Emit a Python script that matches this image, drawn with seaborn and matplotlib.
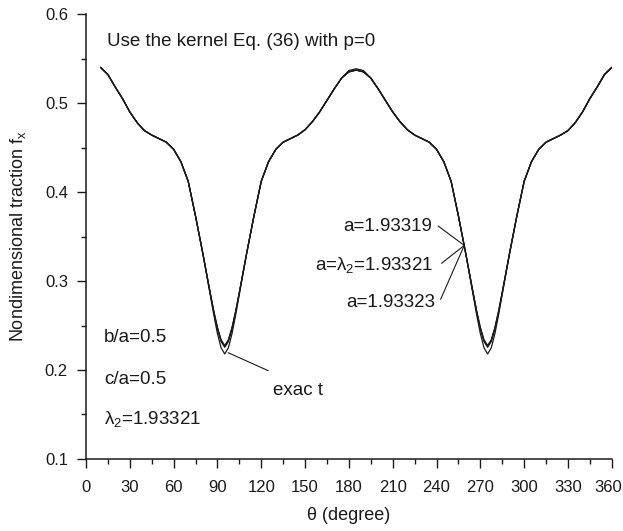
import matplotlib
matplotlib.use("Agg")
import matplotlib.pyplot as plt
import matplotlib.transforms as mtransforms
import seaborn as sns
import pandas as pd
from matplotlib.ticker import MultipleLocator

# ---- data ----
theta = [10, 15, 20, 25, 30, 35, 40, 45, 50, 55, 60, 65, 70, 75, 80, 85, 87.5, 90, 92.5, 95,
         97.5, 100, 102.5, 105, 110, 115, 120, 125, 130, 135, 140, 145, 150, 155, 160, 165,
         170, 175, 180, 185, 190, 195, 200, 205, 210, 215, 220, 225, 230, 235, 240, 245, 250,
         255, 260, 265, 267.5, 270, 272.5, 275, 277.5, 280, 282.5, 285, 290, 295, 300, 305,
         310, 315, 320, 325, 330, 335, 340, 345, 350, 355, 360]

fx_a1 = [0.540, 0.532, 0.518, 0.505, 0.490, 0.478, 0.469, 0.464, 0.460, 0.456, 0.448, 0.434,
         0.412, 0.373, 0.331, 0.287, 0.266, 0.248, 0.234, 0.2275,
         0.234, 0.248, 0.266, 0.287, 0.331, 0.373, 0.412, 0.434, 0.448, 0.456, 0.460, 0.464,
         0.470, 0.479, 0.490, 0.503, 0.516, 0.528, 0.535, 0.537, 0.535, 0.528, 0.516, 0.503,
         0.490, 0.479, 0.470, 0.464, 0.460, 0.456, 0.448, 0.434, 0.412, 0.373, 0.331, 0.287,
         0.266, 0.248, 0.234, 0.2275, 0.234, 0.248, 0.266, 0.287, 0.331, 0.373, 0.412, 0.434,
         0.448, 0.456, 0.460, 0.464, 0.469, 0.478, 0.490, 0.505, 0.518, 0.532, 0.540]

fx_a2 = [0.540, 0.532, 0.518, 0.505, 0.490, 0.478, 0.469, 0.464, 0.460, 0.456, 0.448, 0.434,
         0.412, 0.373, 0.331, 0.287, 0.266, 0.247, 0.233, 0.2265,
         0.233, 0.247, 0.266, 0.287, 0.331, 0.373, 0.412, 0.434, 0.448, 0.456, 0.460, 0.464,
         0.470, 0.479, 0.490, 0.503, 0.516, 0.528, 0.535, 0.537, 0.535, 0.528, 0.516, 0.503,
         0.490, 0.479, 0.470, 0.464, 0.460, 0.456, 0.448, 0.434, 0.412, 0.373, 0.331, 0.287,
         0.266, 0.247, 0.233, 0.2265, 0.233, 0.247, 0.266, 0.287, 0.331, 0.373, 0.412, 0.434,
         0.448, 0.456, 0.460, 0.464, 0.469, 0.478, 0.490, 0.505, 0.518, 0.532, 0.540]

fx_a3 = [0.540, 0.532, 0.518, 0.505, 0.490, 0.478, 0.469, 0.464, 0.460, 0.456, 0.448, 0.434,
         0.412, 0.373, 0.331, 0.287, 0.265, 0.246, 0.232, 0.2255,
         0.232, 0.246, 0.265, 0.287, 0.331, 0.373, 0.412, 0.434, 0.448, 0.456, 0.460, 0.464,
         0.470, 0.479, 0.490, 0.503, 0.516, 0.528, 0.535, 0.537, 0.535, 0.528, 0.516, 0.503,
         0.490, 0.479, 0.470, 0.464, 0.460, 0.456, 0.448, 0.434, 0.412, 0.373, 0.331, 0.287,
         0.265, 0.246, 0.232, 0.2255, 0.232, 0.246, 0.265, 0.287, 0.331, 0.373, 0.412, 0.434,
         0.448, 0.456, 0.460, 0.464, 0.469, 0.478, 0.490, 0.505, 0.518, 0.532, 0.540]

fx_exact = [0.540, 0.532, 0.518, 0.505, 0.490, 0.478, 0.469, 0.464, 0.460, 0.456, 0.448, 0.434,
            0.412, 0.373, 0.331, 0.285, 0.262, 0.241, 0.225, 0.218,
            0.225, 0.241, 0.262, 0.285, 0.331, 0.373, 0.412, 0.434, 0.448, 0.456, 0.460, 0.464,
            0.470, 0.479, 0.490, 0.503, 0.516, 0.528, 0.5365, 0.5385, 0.5365, 0.528, 0.516, 0.503,
            0.490, 0.479, 0.470, 0.464, 0.460, 0.456, 0.448, 0.434, 0.412, 0.373, 0.331, 0.285,
            0.262, 0.241, 0.225, 0.218, 0.225, 0.241, 0.262, 0.285, 0.331, 0.373, 0.412, 0.434,
            0.448, 0.456, 0.460, 0.464, 0.469, 0.478, 0.490, 0.505, 0.518, 0.532, 0.540]

series_labels = ["a=1.93319", "a=$\\lambda_2$=1.93321", "a=1.93323"]
x_ticks = [0, 30, 60, 90, 120, 150, 180, 210, 240, 270, 300, 330, 360]
y_ticks = [0.1, 0.2, 0.3, 0.4, 0.5, 0.6]

# ---- figure ----
sns.set_style("ticks")
plt.rcParams["font.family"] = ["Liberation Sans", "DejaVu Sans"]
plt.rcParams["mathtext.fontset"] = "custom"
plt.rcParams["mathtext.rm"] = "Liberation Sans"
plt.rcParams["mathtext.it"] = "Liberation Sans"

fig = plt.figure(figsize=(6.23, 5.31), dpi=100)
ax = fig.add_axes([0.138, 0.1356, 0.844, 0.838])

df = pd.DataFrame({"theta": theta, "a1": fx_a1, "a2": fx_a2, "a3": fx_a3, "exact": fx_exact})
for col in ["exact", "a1", "a2", "a3"]:
    sns.lineplot(data=df, x="theta", y=col, ax=ax, color="#1a1a1a", linewidth=0.9,
                 sort=False, legend=False)

TS = 13.5   # annotation text size
ax.set_xlim(0, 360)
ax.set_ylim(0.1, 0.6)
ax.set_xticks(x_ticks)
ax.set_yticks(y_ticks)
ax.set_yticklabels([f"{v:.1f}" for v in y_ticks])
ax.xaxis.set_minor_locator(MultipleLocator(15))
ax.yaxis.set_minor_locator(MultipleLocator(0.05))
ax.tick_params(which="major", direction="out", length=6.5, width=1.0, labelsize=12,
               color="#1a1a1a", labelcolor="#1a1a1a")
ax.tick_params(axis="y", which="major", pad=6.5)
ax.tick_params(axis="x", which="major", pad=8.5)
ax.tick_params(which="minor", direction="out", length=3.5, width=1.0, color="#1a1a1a")
sns.despine(ax=ax)
for s in ["left", "bottom"]:
    ax.spines[s].set_linewidth(1.1)
    ax.spines[s].set_color("#1a1a1a")

# keep the last x tick label inside the canvas
last_lbl = ax.get_xticklabels()[-1]
last_lbl.set_transform(last_lbl.get_transform() +
                       mtransforms.ScaledTranslation(-4 / 100, 0, fig.dpi_scale_trans))

ax.set_xlabel("θ (degree)", fontsize=13, color="#1a1a1a")
ax.xaxis.set_label_coords(0.5, -0.126)
ax.xaxis.label.set_verticalalignment("center")
ax.set_ylabel("Nondimensional traction f$_x$", fontsize=13, color="#1a1a1a")
ax.yaxis.set_label_coords(-0.110, 0.5)

tc = "#1a1a1a"
ax.text(14.5, 0.569, "Use the kernel Eq. (36) with p=0", fontsize=TS, color=tc, va="center")
ax.text(12.3, 0.236, "b/a=0.5", fontsize=TS, color=tc, va="center")
ax.text(12.3, 0.189, "c/a=0.5", fontsize=TS, color=tc, va="center")
ax.text(12.3, 0.145, "$\\lambda_2$=1.93321", fontsize=TS, color=tc, va="center")

# exact annotation
ax.plot([97.4, 124.8], [0.2194, 0.1992], color=tc, lw=0.8)
ax.text(128, 0.1775, "exac t", fontsize=TS, color=tc, va="center", ha="left")

# a annotations
conv = (259, 0.340)
text_pos = [(236.8, 0.3607), (237.5, 0.318), (238.9, 0.2753)]
line_start = [(241.1, 0.3618), (243.5, 0.320), (242.8, 0.2794)]
for lab, tp, ls in zip(series_labels, text_pos, line_start):
    ax.text(tp[0], tp[1], lab, fontsize=TS, color=tc, ha="right", va="center")
    ax.plot([ls[0], conv[0]], [ls[1], conv[1]], color=tc, lw=0.8)

fig.savefig("out.png", dpi=100)
